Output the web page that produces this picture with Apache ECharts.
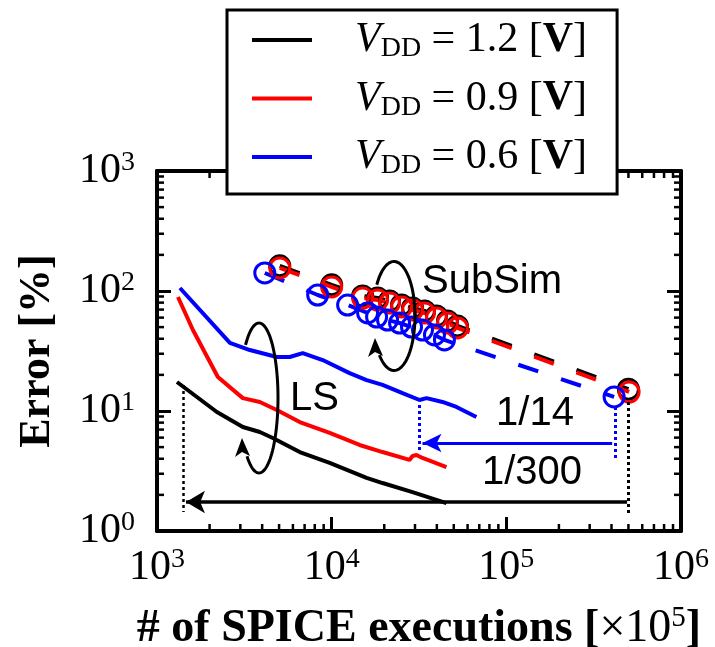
<!DOCTYPE html>
<html><head><meta charset="utf-8">
<script src="https://cdn.jsdelivr.net/npm/echarts@6/dist/echarts.min.js"></script>
<style>html,body{margin:0;padding:0;background:#fff}#c{width:715px;height:647px}</style>
</head><body><div id="c"></div>
<script>
// ---- Data ----
// LS curves
const lsX12 = [1301, 2202, 3101, 3879, 4602, 6564, 9740, 15850, 19560, 29030, 45410];
const lsY12 = [17.45, 9.81, 7.36, 6.68, 5.96, 4.55, 3.69, 2.77, 2.51, 2.11, 1.71];
const lsX09 = [1318, 1606, 2231, 3101, 3879, 4850, 6564, 9740, 14450, 19560, 27900, 29030, 30600, 33110, 45410];
const lsY09 = [89.1, 47.3, 19.2, 12.8, 11.9, 10.2, 8.09, 6.56, 5.21, 4.55, 3.91, 4.22, 4.30, 4.06, 3.41];
const lsX06 = [1353, 2614, 3400, 4850, 5754, 6828, 8884, 12670, 15850, 19560, 25450, 31840, 34910, 43090, 51810, 67390];
const lsY06 = [105.9, 36.9, 32.2, 28.2, 28.2, 30.4, 26.6, 20.7, 18.1, 16.5, 14.1, 12.35, 12.8, 11.9, 10.8, 8.91];
// SubSim curves
const ssX12 = [5045, 10000, 15040, 18320, 21450, 25120, 29030, 34000, 39810, 46030, 52480, 500000];
const ssY12 = [162.0, 112.5, 91.0, 87.5, 82.6, 76.6, 72.3, 68.2, 62.0, 56.3, 51.2, 15.2];
const ssX09 = [5045, 10000, 15040, 18320, 21450, 25120, 29030, 34000, 39810, 46030, 52480, 504500];
const ssY09 = [155.5, 108, 87.4, 84.1, 79.4, 73.6, 69.5, 65.6, 59.6, 54.1, 49.2, 14.4];
const ssX06 = [4141, 8318, 12340, 16060, 18080, 20890, 24470, 28650, 33110, 38780, 44230, 414100];
const ssY06 = [141.3, 92.6, 76.4, 65.6, 60.7, 57.3, 54.1, 50.1, 47.3, 43.0, 39.1, 13.1];
// legend
const legendNames = ['v12', 'v09', 'v06'];
const legendValues = ['1.2', '0.9', '0.6'];
const legendColors = ['#000000', '#ff0000', '#0000ff'];
// axes
const xRange = [1000, 1000000];
const yRange = [1, 1000];
const xDecades = [1000, 10000, 100000];
const yDecades = [1, 10, 100];
const minorMultipliers = [2, 3, 4, 5, 6, 7, 8, 9];
// annotation coordinates (data space)
const blackArrow = [[491300, 1.744], [1465, 1.744]];
const blueArrow = [[403400, 5.41], [33110, 5.41]];
const blackDots = [[[1408, 16.47], [1408, 1.44]], [[497800, 11.9], [497800, 1.41]]];
const blueDots = [[[31840, 11.2], [31840, 4.47]], [[419700, 10.8], [419700, 3.91]]];

const SERIF = 'Liberation Serif', SANS = 'Liberation Sans';
const BLACK = '#000000', RED = '#ff0000', BLUE = '#0000ff';
const zip = (xs, ys) => xs.map((x, i) => [x, ys[i]]);

const chart = echarts.init(document.getElementById('c'));

const tickRich = {
  b: {fontFamily: SERIF, fontSize: 42, lineHeight: 44, color: BLACK},
  s: {fontFamily: SERIF, fontSize: 28, lineHeight: 26, verticalAlign: 'top', color: BLACK}
};
const tickFmt = v => '{b|10}{s|' + Math.round(Math.log10(v)) + '}';

function baseAxis(extra) {
  return Object.assign({
    type: 'log', logBase: 10,
    axisLine: {show: true, lineStyle: {color: BLACK, width: 4}},
    axisTick: {show: true, inside: true, length: 14, lineStyle: {color: BLACK, width: 3}},
    splitLine: {show: false},
    axisLabel: {show: false}
  }, extra);
}

function lsSeries(name, xs, ys, color) {
  return {
    type: 'line', name, data: zip(xs, ys), symbol: 'none',
    lineStyle: {color, width: 4}, itemStyle: {color}, z: 3, silent: true
  };
}
function ssSeries(name, xs, ys, color) {
  return {
    type: 'line', name, data: zip(xs, ys), symbol: 'circle', symbolSize: 20, showAllSymbol: true,
    lineStyle: {color, width: 4, type: [21, 24]},
    itemStyle: {color: 'rgba(0,0,0,0)', borderColor: color, borderWidth: 3},
    z: 3, silent: true
  };
}
function seg(a, b, color, type, width, endArrow, arrowSize) {
  return [
    {coord: a, symbol: 'none', lineStyle: {color, type, width}},
    {coord: b, symbol: endArrow ? 'arrow' : 'none', symbolSize: arrowSize || 10, itemStyle: {color}}
  ];
}

const s12 = lsSeries('v12', lsX12, lsY12, BLACK);
s12.markLine = {
  silent: true, animation: false, label: {show: false}, symbol: ['none', 'none'],
  data: [
    seg(blackArrow[0], blackArrow[1], BLACK, 'solid', 3.5, true, [17, 19]),
    seg(blackDots[0][0], blackDots[0][1], BLACK, [3, 3], 2.5, false),
    seg(blackDots[1][0], blackDots[1][1], BLACK, [3, 3], 3, false)
  ]
};
const s06 = lsSeries('v06', lsX06, lsY06, BLUE);
s06.markLine = {
  silent: true, animation: false, label: {show: false}, symbol: ['none', 'none'],
  data: [
    seg(blueArrow[0], blueArrow[1], BLUE, 'solid', 3, true, [14, 19]),
    seg(blueDots[0][0], blueDots[0][1], BLUE, [3, 3], 3, false),
    seg(blueDots[1][0], blueDots[1][1], BLUE, [3, 3], 3, false)
  ]
};

// minor ticks on all four sides
const minorTicks = {
  type: 'custom', coordinateSystem: 'cartesian2d', data: [[1000, 1]], silent: true, z: 1, clip: false,
  renderItem: function (params, api) {
    const cs = params.coordSys;
    const kids = [];
    const st = {stroke: BLACK, lineWidth: 2.5};
    xDecades.forEach(d => minorMultipliers.forEach(m => {
      const px = api.coord([d * m, 1])[0];
      kids.push({type: 'line', shape: {x1: px, y1: cs.y + cs.height, x2: px, y2: cs.y + cs.height - 7}, style: st});
      kids.push({type: 'line', shape: {x1: px, y1: cs.y, x2: px, y2: cs.y + 7}, style: st});
    }));
    yDecades.forEach(d => minorMultipliers.forEach(m => {
      const py = api.coord([1000, d * m])[1];
      kids.push({type: 'line', shape: {x1: cs.x, y1: py, x2: cs.x + 7, y2: py}, style: st});
      kids.push({type: 'line', shape: {x1: cs.x + cs.width, y1: py, x2: cs.x + cs.width - 7, y2: py}, style: st});
    }));
    return {type: 'group', children: kids};
  }
};

// loop arrows (decorations)
function ellipsePts(cx, cy, rx, ry, t0, t1) {
  const pts = [];
  for (let t = t0; t <= t1; t += 3) {
    const r = t * Math.PI / 180;
    pts.push([cx + rx * Math.cos(r), cy + ry * Math.sin(r)]);
  }
  return pts;
}
const graphics = [
  {type: 'polyline', z: 50, shape: {points: ellipsePts(259, 398, 19, 75, 225, 490)}, style: {stroke: BLACK, lineWidth: 3, fill: null}},
  {type: 'polygon', z: 50, shape: {points: [[242, 438], [235, 457], [242, 452], [250, 456]]}, style: {fill: BLACK}},
  {type: 'polyline', z: 50, shape: {points: ellipsePts(394, 316, 21, 54.5, 215, 495)}, style: {stroke: BLACK, lineWidth: 3, fill: null}},
  {type: 'polygon', z: 50, shape: {points: [[375, 338], [368, 357], [375, 352], [383, 356]]}, style: {fill: BLACK}},
  {type: 'text', z: 50, x: 422, y: 282, style: {text: 'SubSim', fontFamily: SANS, fontSize: 40, fill: BLACK, align: 'left', verticalAlign: 'middle'}},
  {type: 'text', z: 50, x: 290, y: 399, style: {text: 'LS', fontFamily: SANS, fontSize: 40, fill: BLACK, align: 'left', verticalAlign: 'middle'}},
  {type: 'text', z: 50, x: 535, y: 414, style: {text: '1/14', fontFamily: SANS, fontSize: 40, fill: BLACK, align: 'center', verticalAlign: 'middle'}},
  {type: 'text', z: 50, x: 532, y: 473, style: {text: '1/300', fontFamily: SANS, fontSize: 40, fill: BLACK, align: 'center', verticalAlign: 'middle'}}
];

const option = {
  backgroundColor: '#ffffff',
  animation: false,
  grid: {left: 157, right: 34, top: 171, bottom: 116, containLabel: false, outerBoundsMode: 'none'},
  legend: {
    orient: 'vertical', left: 227, top: 10, z: 20,
    backgroundColor: '#ffffff', borderColor: BLACK, borderWidth: 3, borderRadius: 0,
    padding: [9, 30, 14, 25],
    itemWidth: 60, itemHeight: 4, itemGap: 14.5,
    selectedMode: false,
    data: legendNames.map((n, i) => ({name: n, icon: 'rect', itemStyle: {color: legendColors[i], borderWidth: 0}})),
    formatter: function (name) {
      const v = legendValues[legendNames.indexOf(name)];
      return '{v|V}{d|DD}{t| = ' + v + ' [}{bv|V}{t|]}';
    },
    textStyle: {
      rich: {
        v: {fontFamily: SERIF, fontStyle: 'italic', fontSize: 42, lineHeight: 46, color: BLACK, padding: [0, 0, 0, 38]},
        d: {fontFamily: SERIF, fontSize: 28, lineHeight: 34, verticalAlign: 'bottom', color: BLACK},
        t: {fontFamily: SERIF, fontSize: 42, lineHeight: 46, color: BLACK},
        bv: {fontFamily: SERIF, fontWeight: 'bold', fontSize: 42, lineHeight: 46, color: BLACK}
      }
    }
  },
  xAxis: [
    baseAxis({
      min: xRange[0], max: xRange[1], position: 'bottom',
      axisLabel: {show: true, formatter: tickFmt, rich: tickRich, margin: 15, color: BLACK},
      name: '{t|# of SPICE executions [}{m|×10}{s|5}{t|]}',
      nameLocation: 'middle', nameGap: 73,
      nameTextStyle: {
        rich: {
          t: {fontFamily: SERIF, fontWeight: 'bold', fontSize: 46, lineHeight: 50, color: BLACK},
          m: {fontFamily: SERIF, fontSize: 46, lineHeight: 50, color: BLACK},
          s: {fontFamily: SERIF, fontSize: 29, lineHeight: 32, verticalAlign: 'top', color: BLACK}
        }
      }
    }),
    baseAxis({min: xRange[0], max: xRange[1], position: 'top'})
  ],
  yAxis: [
    baseAxis({
      min: yRange[0], max: yRange[1], position: 'left',
      axisLabel: {show: true, formatter: tickFmt, rich: tickRich, margin: 22, color: BLACK},
      name: 'Error [%]', nameLocation: 'middle', nameGap: 94,
      nameTextStyle: {fontFamily: SERIF, fontWeight: 'bold', fontSize: 44, lineHeight: 50, color: BLACK}
    }),
    baseAxis({min: yRange[0], max: yRange[1], position: 'right'})
  ],
  series: [
    s12,
    lsSeries('v09', lsX09, lsY09, RED),
    s06,
    ssSeries('ss12', ssX12, ssY12, BLACK),
    ssSeries('ss09', ssX09, ssY09, RED),
    ssSeries('ss06', ssX06, ssY06, BLUE),
    minorTicks
  ],
  graphic: graphics
};
chart.setOption(option);
</script></body></html>
